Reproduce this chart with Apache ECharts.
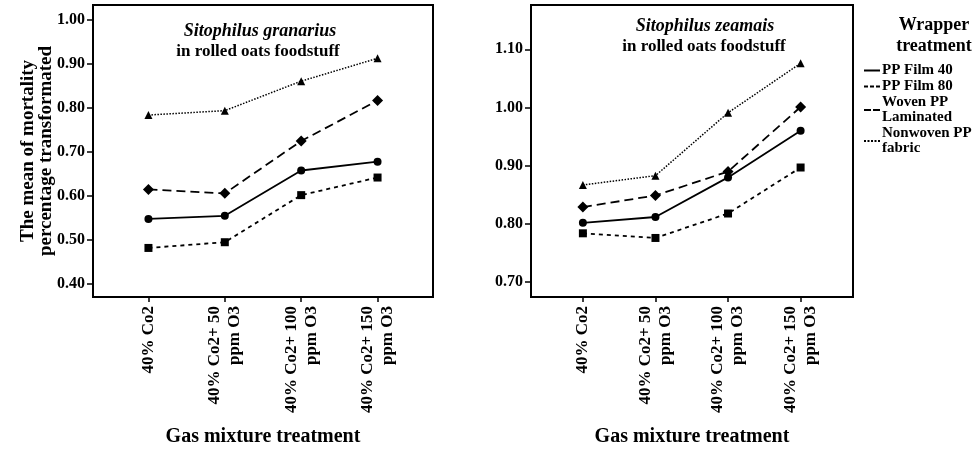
<!DOCTYPE html>
<html>
<head>
<meta charset="utf-8">
<script src="https://cdn.jsdelivr.net/npm/echarts@6/dist/echarts.min.js"></script>
<style>html,body{margin:0;padding:0;background:#fff;}#c{width:972px;height:450px;}</style>
</head>
<body>
<div id="c"></div>
<script>
var categories = ['40% Co2', '40% Co2+ 50\nppm O3', '40% Co2+ 100\nppm O3', '40% Co2+ 150\nppm O3'];
var seriesNames = ['PP Film 40', 'PP Film 80', 'Woven PP\nLaminated', 'Nonwoven PP\nfabric'];

var granariusPP40 = [0.548, 0.555, 0.658, 0.678];
var granariusPP80 = [0.482, 0.495, 0.602, 0.642];
var granariusWoven = [0.615, 0.606, 0.725, 0.817];
var granariusNonwoven = [0.784, 0.794, 0.861, 0.913];

var zeamaisPP40 = [0.802, 0.812, 0.880, 0.960];
var zeamaisPP80 = [0.784, 0.776, 0.818, 0.897];
var zeamaisWoven = [0.829, 0.849, 0.890, 1.001];
var zeamaisNonwoven = [0.867, 0.883, 0.991, 1.076];

var leftTicks = [0.40, 0.50, 0.60, 0.70, 0.80, 0.90, 1.00];
var rightTicks = [0.70, 0.80, 0.90, 1.00, 1.10];

var FONT = '"Liberation Serif", "Times New Roman", serif';
var chart = echarts.init(document.getElementById('c'));

function pairs(arr) { return arr.map(function (v, i) { return [i, v]; }); }

var styles = [
  { symbol: 'circle', size: 8, type: 'solid', width: 1.8 },
  { symbol: 'rect', size: 8, type: [4, 4], width: 1.8 },
  { symbol: 'diamond', size: 11, type: [9, 5], width: 1.8 },
  { symbol: 'triangle', size: 8, type: [1.5, 1.5], width: 1.5 }
];

function makeSeries(idx, arrs) {
  return arrs.map(function (arr, k) {
    var s = styles[k];
    return {
      type: 'line', name: seriesNames[k], xAxisIndex: idx, yAxisIndex: idx,
      data: pairs(arr), symbol: s.symbol, symbolSize: s.size,
      itemStyle: { color: '#000' },
      lineStyle: { color: '#000', type: s.type, width: s.width },
      animation: false, z: 3
    };
  });
}

function xAxis(idx, min, max) {
  return {
    type: 'value', gridIndex: idx, min: min, max: max,
    splitLine: { show: false },
    axisLine: { show: true, onZero: false, lineStyle: { color: '#000', width: 2 } },
    axisTick: { show: true, length: 5, customValues: [0, 1, 2, 3], lineStyle: { color: '#000', width: 1.5 } },
    axisLabel: {
      customValues: [0, 1, 2, 3], rotate: 90, margin: 9,
      formatter: function (v) { return categories[Math.round(v)]; },
      fontFamily: FONT, fontWeight: 'bold', fontSize: 17, lineHeight: 20, color: '#000'
    }
  };
}
function yAxis(idx, min, max, ticks) {
  return {
    type: 'value', gridIndex: idx, min: min, max: max,
    splitLine: { show: false },
    axisLine: { show: true, onZero: false, lineStyle: { color: '#000', width: 2 } },
    axisTick: { show: true, length: 6, customValues: ticks, lineStyle: { color: '#000', width: 1.5 } },
    axisLabel: {
      customValues: ticks, margin: 8,
      formatter: function (v) { return v.toFixed(2); },
      fontFamily: FONT, fontWeight: 'bold', fontSize: 16, color: '#000'
    }
  };
}

function txt(x, y, text, size, extra) {
  var st = { text: text, x: 0, y: 0, fill: '#000', align: 'center', verticalAlign: 'middle',
    font: (extra && extra.italic ? 'italic ' : '') + 'bold ' + size + 'px ' + FONT,
    lineHeight: (extra && extra.lh) || size };
  return { type: 'text', x: x, y: y, rotation: (extra && extra.rot) || 0, style: st, silent: true };
}

var option = {
  backgroundColor: '#fff',
  animation: false,
  grid: [
    { left: 93, top: 5, width: 340, height: 292, show: true, borderColor: '#000', borderWidth: 2, backgroundColor: 'transparent' },
    { left: 531, top: 5, width: 322, height: 292, show: true, borderColor: '#000', borderWidth: 2, backgroundColor: 'transparent' }
  ],
  xAxis: [xAxis(0, -0.726, 3.726), xAxis(1, -0.715, 3.722)],
  yAxis: [yAxis(0, 0.3705, 1.0341, leftTicks), yAxis(1, 0.6746, 1.1761, rightTicks)],
  legend: {
    orient: 'vertical', left: 864, top: 63, padding: 0, itemGap: 1, itemWidth: 16, itemHeight: 2,
    selectedMode: false,
    data: [
      { name: seriesNames[0], icon: 'path://M0,0h16v2h-16z' },
      { name: seriesNames[1], icon: 'path://M0,0h4v2h-4zM6,0h4v2h-4zM12,0h4v2h-4z' },
      { name: seriesNames[2], icon: 'path://M0,0h7v2h-7zM9,0h7v2h-7z' },
      { name: seriesNames[3], icon: 'path://M0,0h2v2h-2zM3.5,0h2v2h-2zM7,0h2v2h-2zM10.5,0h2v2h-2zM14,0h2v2h-2z' }
    ],
    itemStyle: { color: '#000' },
    textStyle: { fontFamily: FONT, fontWeight: 'bold', fontSize: 15, lineHeight: 15, color: '#000', padding: [0, 0, 0, -3] }
  },
  graphic: [
    txt(260, 31, 'Sitophilus granarius', 18, { italic: true }),
    txt(258, 52, 'in rolled oats foodstuff', 17),
    txt(705, 26, 'Sitophilus zeamais', 18, { italic: true }),
    txt(704, 47, 'in rolled oats foodstuff', 17),
    txt(263, 437, 'Gas mixture treatment', 20),
    txt(692, 437, 'Gas mixture treatment', 20),
    txt(37, 151, 'The mean of mortality\npercentage transformated', 19, { rot: Math.PI / 2, lh: 18 }),
    txt(934, 36, 'Wrapper\ntreatment', 18, { lh: 21 })
  ],
  series: makeSeries(0, [granariusPP40, granariusPP80, granariusWoven, granariusNonwoven])
    .concat(makeSeries(1, [zeamaisPP40, zeamaisPP80, zeamaisWoven, zeamaisNonwoven]))
};
chart.setOption(option);
</script>
</body>
</html>
